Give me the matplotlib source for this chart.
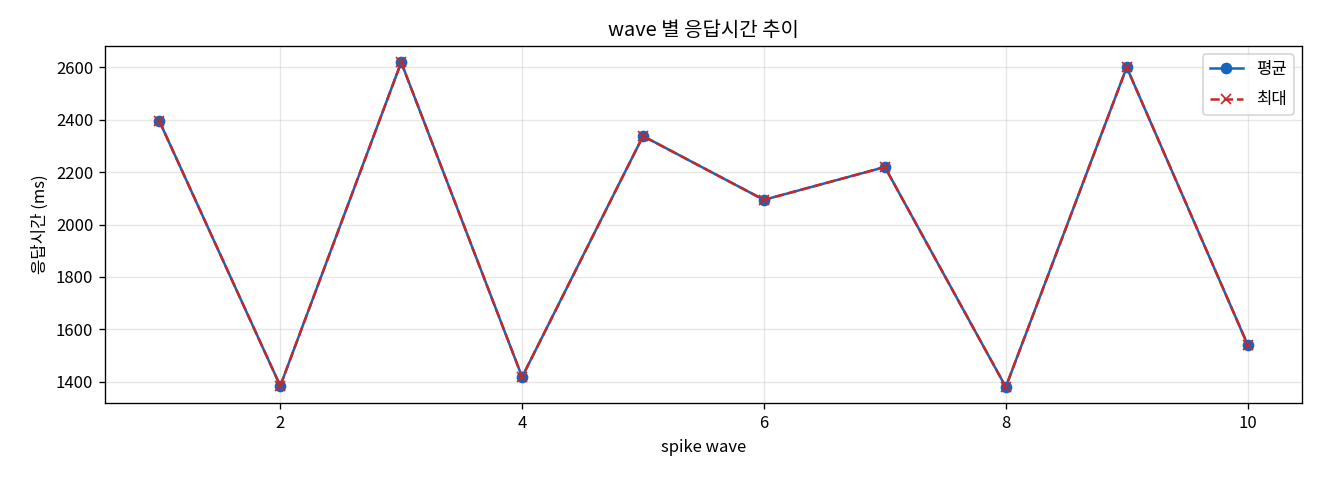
import numpy as np
import matplotlib
matplotlib.use('Agg')
import matplotlib.pyplot as plt

plt.rcParams['font.family'] = ['Noto Sans CJK KR', 'DejaVu Sans']
plt.rcParams['axes.unicode_minus'] = False

waves = [1, 2, 3, 4, 5, 6, 7, 8, 9, 10]
mean_ms = [2394, 1385, 2618, 1419, 2337, 2094, 2219, 1381, 2599, 1542]
max_ms = [2394, 1385, 2618, 1419, 2337, 2094, 2219, 1381, 2599, 1542]

fig, ax = plt.subplots(figsize=(11, 4), dpi=120)

ax.plot(waves, mean_ms, marker='o', color='#1565C0', linewidth=1.5, markersize=6, label='평균')
ax.plot(waves, max_ms, marker='x', linestyle='--', color='#C62828', linewidth=1.5, markersize=6, label='최대')

ax.set_title('wave 별 응답시간 추이')
ax.set_xlabel('spike wave')
ax.set_ylabel('응답시간 (ms)')
ax.grid(True, alpha=0.3)
ax.legend(loc='upper right', labelspacing=0.8)

fig.subplots_adjust(left=0.0795, right=0.9864, top=0.904, bottom=0.160)
plt.savefig('out.png')
